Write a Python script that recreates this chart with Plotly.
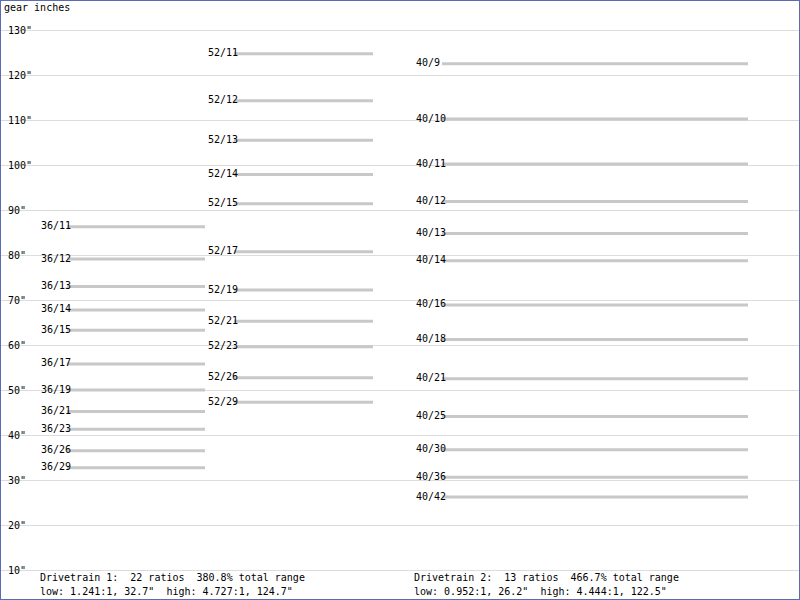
import plotly.graph_objects as go

# --- data ---
dt1_small_ring = 36
dt1_small_cogs = [11, 12, 13, 14, 15, 17, 19, 21, 23, 26, 29]
dt1_small_inches = [86.3, 79.1, 73.0, 67.8, 63.3, 55.8, 50.0, 45.2, 41.3, 36.5, 32.7]

dt1_big_ring = 52
dt1_big_cogs = [11, 12, 13, 14, 15, 17, 19, 21, 23, 26, 29]
dt1_big_inches = [124.7, 114.3, 105.5, 97.9, 91.4, 80.7, 72.2, 65.3, 59.6, 52.7, 47.3]

dt2_ring = 40
dt2_cogs = [9, 10, 11, 12, 13, 14, 16, 18, 21, 25, 30, 36, 42]
dt2_inches = [122.5, 110.2, 100.2, 91.9, 84.8, 78.7, 68.9, 61.2, 52.5, 44.1, 36.7, 30.6, 26.2]

y_ticks = [10, 20, 30, 40, 50, 60, 70, 80, 90, 100, 110, 120, 130]

dt1_summary = ["Drivetrain 1:  22 ratios  380.8% total range",
               'low: 1.241:1, 32.7"  high: 4.727:1, 124.7"']
dt2_summary = ["Drivetrain 2:  13 ratios  466.7% total range",
               'low: 0.952:1, 26.2"  high: 4.444:1, 122.5"']

MONO = "DejaVu Sans Mono"
LINE_COLOR = "#c8c8c8"

# column placement (x axis runs 0..800)
columns = [
    (dt1_small_ring, dt1_small_cogs, dt1_small_inches, 40, 205),
    (dt1_big_ring, dt1_big_cogs, dt1_big_inches, 207, 373),
    (dt2_ring, dt2_cogs, dt2_inches, 415, 748),
]


def nb(s):
    # keep runs of spaces visible in svg text
    return s.replace("  ", "\u00a0\u00a0")


fig = go.Figure()

for ring, cogs, inches, x0, x1 in columns:
    xs, ys = [], []
    for v in inches:
        xs += [x0 + 27, x1, None]
        ys += [v, v, None]
    fig.add_trace(go.Scatter(x=xs, y=ys, mode="lines",
                             line=dict(color=LINE_COLOR, width=3),
                             hoverinfo="skip", showlegend=False))

for ring, cogs, inches, x0, x1 in columns:
    fig.add_trace(go.Scatter(
        x=[x0 + 1] * len(inches), y=inches, mode="text",
        text=[f"{ring}/{c}" for c in cogs],
        textposition="middle right",
        textfont=dict(family=MONO, size=10, color="black"),
        hoverinfo="skip", showlegend=False))

annotations = [dict(text="gear inches", xref="paper", yref="paper", x=0.002, y=0.987,
                    xanchor="left", yanchor="middle", showarrow=False,
                    font=dict(family=MONO, size=10, color="black"))]
for x0, lines in [(38, dt1_summary), (412, dt2_summary)]:
    for i, line in enumerate(lines):
        annotations.append(dict(
            text=nb(line), xref="x", yref="paper", x=x0,
            y=1 - (577 + i * 14.5) / 600, xanchor="left", yanchor="middle",
            showarrow=False, font=dict(family=MONO, size=10, color="black")))

fig.update_layout(
    width=800, height=600,
    margin=dict(l=0, r=0, t=0, b=0),
    paper_bgcolor="white", plot_bgcolor="white",
    xaxis=dict(range=[0, 800], visible=False, fixedrange=True),
    yaxis=dict(range=[10 - 30 / 4.5, 130 + 30 / 4.5], tickvals=y_ticks,
               ticktext=[f'{t}"' for t in y_ticks],
               ticklabelposition="inside", ticklabelstandoff=5,
               showgrid=True, gridcolor="#dcdcdc", gridwidth=1,
               zeroline=False, showline=False, ticks="",
               tickfont=dict(family=MONO, size=10, color="black"),
               fixedrange=True),
    annotations=annotations,
    shapes=[dict(type="rect", xref="paper", yref="paper", x0=0, x1=1, y0=0, y1=1,
                 line=dict(color="#5b6bb5", width=2))],
    showlegend=False,
)

fig.write_html("out.html", config={"displayModeBar": False},
               post_script="document.body.style.margin='0';")
